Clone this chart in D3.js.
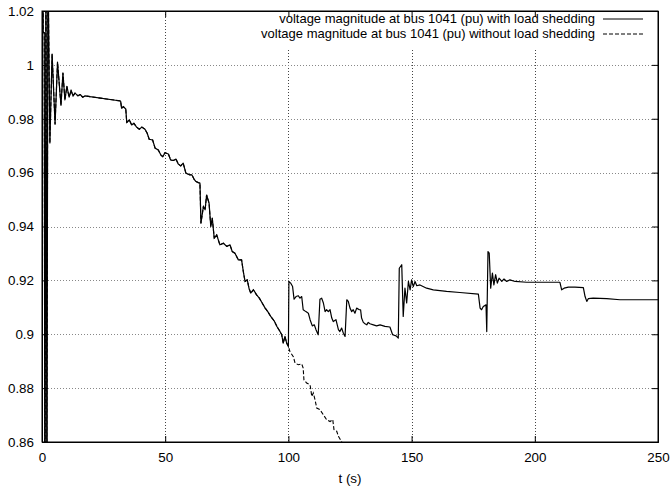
<!DOCTYPE html>
<html>
<head>
<meta charset="utf-8">
<script src="https://cdn.jsdelivr.net/npm/d3@7"></script>
<style>
  body { margin: 0; background: #fff; }
  text { font-family: "Liberation Sans", Arial, sans-serif; font-size: 13.4px; fill: #000; }
</style>
</head>
<body>
<div id="chart"></div>
<script>
// time (s) and voltage (pu), common part before the load shedding at t = 100 s
var tShared = [0, 0.3, 0.5, 0.9, 1.2, 1.6, 2.0, 2.4, 3.2, 4.1, 5.3, 6.3, 7.7, 8.5, 9.3, 10.1, 11.0, 11.8, 12.6, 13.4, 14.6, 15.5, 16.5, 17.5, 19.5,
  31.9, 32.3, 33.0, 34.0, 34.4, 35.4, 36.4, 37.3, 38.4, 39.5, 40.5, 41.8, 42.7, 43.5, 44.9, 45.9, 47.2, 48.2, 49.0, 49.9,
  51.3, 52.2, 53.3, 54.4, 55.3, 56.3, 57.3, 58.4, 59.8, 60.8, 61.7, 62.5, 63.4, 64.1, 64.5, 65.5, 66.2, 66.8, 67.8, 68.5,
  69.1, 69.9, 70.9, 72.2, 73.6, 75.0, 76.3, 77.2, 78.3, 79.7, 81.0, 81.7, 82.4, 83.3, 84.0, 84.7, 85.8, 87.1, 88.2, 89.3,
  90.5, 91.7, 92.9, 94.2, 95.4, 96.6, 97.3, 97.9, 98.6, 99.3, 100.0];
var vShared = [0.985, 1.06, 1.012, 1.012, 0.80, 1.05, 0.84, 1.04, 0.971, 1.004, 0.978, 1.001, 0.985, 0.997, 0.987, 0.992, 0.988, 0.9905, 0.9885, 0.9895, 0.9885, 0.989, 0.988, 0.9885, 0.9882,
  0.9866, 0.9839, 0.9845, 0.9836, 0.9786, 0.9796, 0.9777, 0.9783, 0.9769, 0.9761, 0.9769, 0.9761, 0.9746, 0.9724, 0.9721, 0.9691, 0.9684, 0.9666, 0.9659, 0.9674,
  0.9669, 0.9647, 0.9645, 0.9650, 0.9632, 0.9625, 0.9635, 0.9598, 0.9592, 0.9592, 0.9576, 0.9567, 0.9563, 0.9561, 0.9412, 0.9474, 0.9462, 0.9517, 0.9487, 0.9400,
  0.9431, 0.9357, 0.9369, 0.9332, 0.9338, 0.9326, 0.9332, 0.9307, 0.9301, 0.9276, 0.9276, 0.9233, 0.9196, 0.9202, 0.9171, 0.9153, 0.9165, 0.9146, 0.9134, 0.9117,
  0.9098, 0.9083, 0.9065, 0.9050, 0.9028, 0.9010, 0.8998, 0.8967, 0.8992, 0.8967, 0.8955];

// with load shedding, after t = 100 s
var tWith = [100.2, 100.9, 101.7, 102.3, 103.1, 104.0, 104.7, 105.4, 106.0, 107.1, 108.1, 108.8, 109.7, 110.5, 111.2, 112.1, 112.8, 113.5, 114.2, 114.9,
  115.5, 116.2, 116.9, 117.6, 118.2, 119.3, 120.3, 120.9, 121.6, 122.3, 123.0, 123.7, 124.3, 125.0, 125.7, 126.3, 127.0, 127.7, 128.8, 129.3,
  129.7, 130.4, 131.1, 131.8, 132.4, 133.1, 134.5, 135.8, 137.2, 139.2, 141.2, 142.3, 143.7, 144.6, 145.0, 146.0, 146.6, 147.3, 148.0, 148.7,
  149.4, 150.0, 150.7, 151.4, 152.1, 153.4, 156.1, 158.8, 164.2, 169.6, 177.1, 177.8, 178.4, 179.1, 180.2, 180.5, 181.0, 181.5, 182.1, 182.8,
  183.4, 184.1, 184.8, 185.5, 186.6, 187.5, 188.6, 189.9, 192.0, 196.7, 203.4, 210.2, 210.9, 211.9, 213.6, 216.3, 219.7, 220.4, 221.1, 221.7,
  223.7, 229.2, 234.6, 242.7, 250];
var vWith = [0.9196, 0.9190, 0.9177, 0.9130, 0.9140, 0.9143, 0.9134, 0.9140, 0.9091, 0.9084, 0.9078, 0.9054, 0.9031, 0.9035, 0.9017, 0.8998, 0.9130, 0.9134, 0.9116, 0.9084,
  0.9091, 0.9084, 0.9091, 0.9060, 0.9047, 0.9054, 0.9017, 0.9010, 0.9023, 0.9004, 0.8992, 0.9128, 0.9122, 0.9097, 0.9084, 0.9091, 0.9078, 0.9097, 0.9091, 0.9091,
  0.9060, 0.9044, 0.9039, 0.9035, 0.9044, 0.9039, 0.9035, 0.9031, 0.9035, 0.9029, 0.9027, 0.8998, 0.8994, 0.8986, 0.9245, 0.9258, 0.9066, 0.9171, 0.9116, 0.9196,
  0.9165, 0.9202, 0.9177, 0.9196, 0.9180, 0.9183, 0.9171, 0.9165, 0.9159, 0.9155, 0.9149, 0.9097, 0.9091, 0.9103, 0.9109, 0.9010, 0.9307, 0.9301, 0.9171, 0.9227,
  0.9183, 0.9221, 0.9190, 0.9208, 0.9196, 0.9205, 0.9196, 0.9202, 0.9196, 0.9193, 0.9193, 0.9193, 0.9165, 0.9171, 0.9175, 0.9175, 0.9173, 0.9140, 0.9122, 0.9132,
  0.9134, 0.9132, 0.9128, 0.9128, 0.9128];

// without load shedding, after t = 100 s
var tWithout = [100.6, 102.0, 102.7, 104.0, 105.4, 106.0, 106.3, 107.4, 108.8, 109.5, 110.1, 110.8, 111.5, 112.8, 114.2, 115.5, 116.9, 118.0, 118.5, 119.6, 120.3, 121.6, 122.0];
var vWithout = [0.8936, 0.8917, 0.8893, 0.8887, 0.8890, 0.8874, 0.8831, 0.8819, 0.8812, 0.8769, 0.8782, 0.8757, 0.8726, 0.8720, 0.8701, 0.8683, 0.8676, 0.8683, 0.8646, 0.8640, 0.8621, 0.8601, 0.8585];

var xTicks = [0, 50, 100, 150, 200, 250];
var yTicks = [0.86, 0.88, 0.9, 0.92, 0.94, 0.96, 0.98, 1, 1.02];
var seriesNames = ["voltage magnitude at bus 1041 (pu) with load shedding",
                   "voltage magnitude at bus 1041 (pu) without load shedding"];
var xTitle = "t (s)";

// build the two series from the arrays
function pairs(ts, vs) { return ts.map(function(t, i) { return [t, vs[i]]; }); }
var withShed = pairs(tShared, vShared).concat(pairs(tWith, vWith));
var withoutShed = pairs(tShared, vShared).concat(pairs(tWithout, vWithout));

var W = 672, H = 487;
var margin = {top: 11, right: 14, bottom: 45, left: 42},
    width = W - margin.left - margin.right,
    height = H - margin.top - margin.bottom;

var x = d3.scaleLinear().domain([0, 250]).range([0, width]);
var y = d3.scaleLinear().domain([0.86, 1.02]).range([height, 0]);

var svg = d3.select("#chart").append("svg")
    .attr("width", W)
    .attr("height", H)
  .append("g")
    .attr("transform", "translate(" + margin.left + "," + margin.top + ")");

svg.append("clipPath").attr("id", "clip")
  .append("rect").attr("width", width).attr("height", height);

// grid
svg.append("g")
  .selectAll("line.gx")
  .data(xTicks.slice(1, -1))
  .enter().append("line")
    .attr("x1", function(d) { return Math.round(x(d)) + 0.5; })
    .attr("x2", function(d) { return Math.round(x(d)) + 0.5; })
    .attr("y1", 0).attr("y2", height)
    .style("stroke", "#444").style("stroke-dasharray", "1,2");
svg.append("g")
  .selectAll("line.gy")
  .data(yTicks.slice(1, -1))
  .enter().append("line")
    .attr("y1", function(d) { return Math.round(y(d)) + 0.5; })
    .attr("y2", function(d) { return Math.round(y(d)) + 0.5; })
    .attr("x1", 0).attr("x2", width)
    .style("stroke", "#888").style("stroke-dasharray", "1,2");

// legend background hides the grid
var legendRight = width - 53;
svg.append("rect")
  .attr("x", legendRight - 350).attr("y", 3)
  .attr("width", width - (legendRight - 350)).attr("height", 35)
  .style("fill", "#fff");

// curves
var line = d3.line()
  .x(function(d) { return x(d[0]); })
  .y(function(d) { return y(d[1]); });

var plot = svg.append("g").attr("clip-path", "url(#clip)");
plot.append("path")
  .datum(withoutShed)
  .attr("d", line)
  .style("fill", "none").style("stroke", "#000").style("stroke-width", 1.1)
  .style("stroke-dasharray", "4,2");
plot.append("path")
  .datum(withShed)
  .attr("d", line)
  .style("fill", "none").style("stroke", "#000").style("stroke-width", 1.2)
  .style("stroke-linejoin", "round");

// axes, ticks pointing inward and mirrored
var fmt = function(d) { return String(+d.toFixed(2)); };
svg.append("g").call(d3.axisLeft(y).tickValues(yTicks).tickSize(-6).tickPadding(8).tickFormat(fmt));
svg.append("g").attr("transform", "translate(" + width + ",0)")
  .call(d3.axisRight(y).tickValues(yTicks).tickSize(-6).tickFormat(""));
svg.append("g").attr("transform", "translate(0," + height + ")")
  .call(d3.axisBottom(x).tickValues(xTicks).tickSize(-6).tickPadding(10));
svg.append("g")
  .call(d3.axisTop(x).tickValues(xTicks).tickSize(-6).tickFormat(""));
svg.selectAll(".domain").style("stroke", "#000");
svg.selectAll(".tick line").style("stroke", "#000");
svg.selectAll(".tick text").style("font-size", "13.4px").style("font-family", "'Liberation Sans', Arial, sans-serif");

svg.append("rect").attr("width", width).attr("height", height)
  .style("fill", "none").style("stroke", "#000");

// x axis title
svg.append("text")
  .attr("x", width / 2).attr("y", height + 41)
  .attr("text-anchor", "middle")
  .text(xTitle);

// legend
var legend = svg.selectAll("g.legend")
  .data(seriesNames)
  .enter().append("g")
    .attr("transform", function(d, i) { return "translate(0," + (8 + i * 15) + ")"; });
legend.append("text")
  .attr("x", legendRight - 10).attr("dy", "0.32em")
  .attr("text-anchor", "end")
  .style("font-size", "13px")
  .text(function(d) { return d; });
legend.append("line")
  .attr("x1", legendRight - 2).attr("x2", legendRight + 38)
  .style("stroke", "#000").style("stroke-width", 1)
  .style("stroke-dasharray", function(d, i) { return i ? "4,2" : null; });
</script>
</body>
</html>
